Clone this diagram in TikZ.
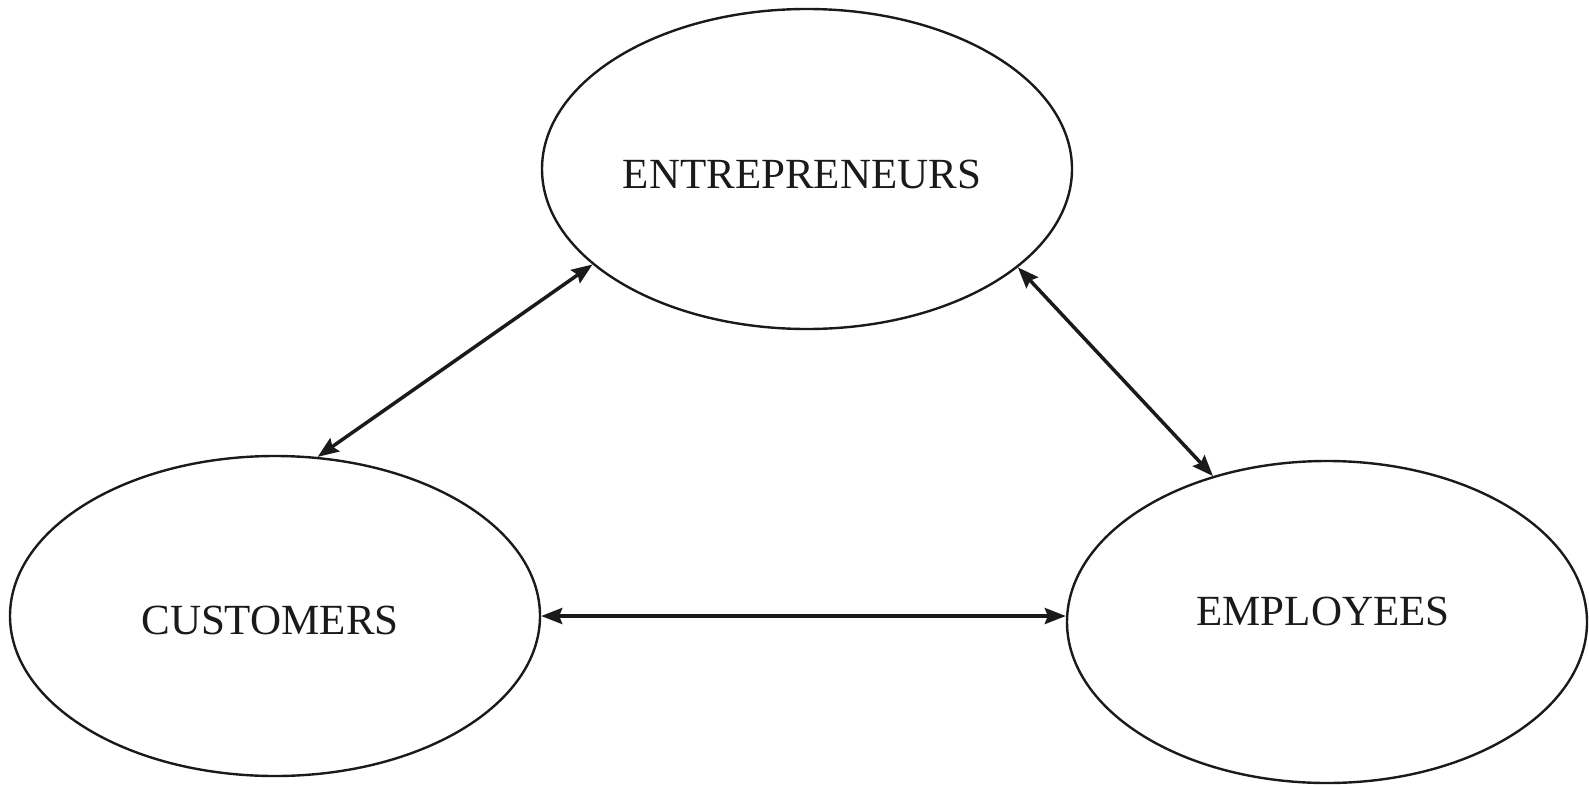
\documentclass[tikz,border=0pt]{standalone}
\usepackage{fontspec}
\setmainfont{Liberation Serif}
\usetikzlibrary{shapes.geometric,arrows.meta}
\definecolor{ink}{HTML}{1A1A1A}
\tikzset{
  oval/.style={ellipse, draw=ink, line width=2.4pt, inner sep=0pt, minimum width=530pt, minimum height=320pt},
  lbl/.style={inner sep=0pt, text=ink, font=\fontsize{43}{50}\selectfont},
  link/.style={draw=ink, line width=3.5pt, {Stealth[length=21pt,width=16pt,inset=3pt]}-{Stealth[length=21pt,width=16pt,inset=3pt]}}
}
\begin{document}
\begin{tikzpicture}[x=1pt,y=-1pt]
\useasboundingbox (0,0) rectangle (1589,784);
\node[oval] (entr) at (807,169) {};
\node[oval] (cust) at (275,616) {};
\node[oval, minimum width=520pt, minimum height=322pt] (emp) at (1327,622) {};
\node[lbl] (entrT) at (802,174) {ENTREPRENEURS};
\node[lbl] (custT) at (270,620) {CUSTOMERS};
\node[lbl] (empT) at (1323,611) {EMPLOYEES};
\draw[link] (cust.75) -- (entr.204);
\draw[link] (entr.335.5) -- (emp.128);
\draw[link] (cust.east) -- (cust.east -| emp.west);
\end{tikzpicture}
\end{document}
